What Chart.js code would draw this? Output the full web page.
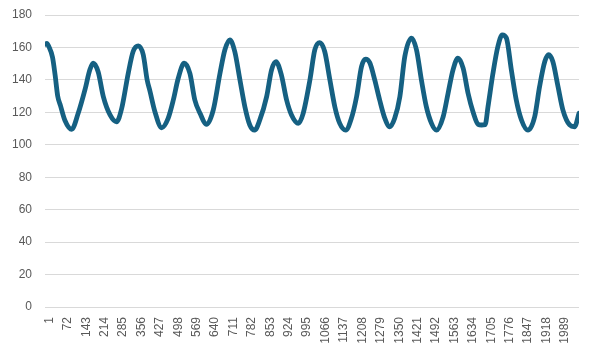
<!DOCTYPE html>
<html>
<head>
<meta charset="utf-8">
<script src="https://cdn.jsdelivr.net/npm/chart.js@4"></script>
<style>
html, body { margin: 0; padding: 0; background: #fff; }
</style>
</head>
<body>
<canvas id="grafica" width="589" height="353"></canvas>
<script>
// Posiciones (índice de la serie)
const puntoIndice = [
  1, 8, 16, 30, 40, 50, 61, 78, 104,
  129, 155, 174, 187,
  206, 226, 252, 277,
  297, 322, 341, 361,
  380, 395, 406, 425, 451,
  476, 496, 515, 538,
  560, 579, 599, 624,
  650, 676, 695, 714,
  733, 753, 772, 791, 810,
  829, 856, 875, 892,
  913, 933, 952, 978,
  997, 1023, 1042, 1061,
  1080, 1100, 1119, 1138, 1161,
  1183, 1203, 1222, 1238,
  1254, 1273, 1292, 1312, 1331,
  1350, 1370, 1389, 1415,
  1434, 1453, 1472, 1492, 1511,
  1537, 1556, 1575, 1594,
  1614, 1633, 1652, 1672, 1685, 1699,
  1710, 1729, 1748, 1765, 1781,
  1800, 1819, 1839, 1864,
  1890, 1909, 1929, 1944,
  1960, 1980, 1999, 2025, 2044, 2061
];
// Valores aproximados de la serie en esas posiciones
const puntoValor = [
  162, 162.5, 160.5, 154, 143, 130, 124, 115, 109.5,
  119.4, 133.8, 146.2, 150.3,
  145, 129.7, 118.4, 114.2,
  122.5, 144, 157.5, 161,
  155.5, 140, 133, 120.4, 110.5,
  116.3, 127.6, 141, 150.3,
  144, 127.6, 119.4, 112.6,
  121.4, 144, 158.6, 164.7,
  157.5, 140, 123.5, 112.2, 109,
  115, 129.7, 146.2, 151.3,
  143, 127.6, 118.4, 113.2,
  119.4, 140, 158.6, 163,
  157.5, 140, 123.5, 113.2, 109,
  116.3, 129.7, 148.2, 152.8,
  150.5, 140, 127.6, 116.3, 111.1,
  116.3, 129.7, 154.4, 165.8,
  158.6, 140, 123.5, 113.2, 109,
  117.3, 131.8, 146.2, 153.4,
  147.2, 131.8, 120.4, 112.6, 112.2, 112.4,
  123.5, 144, 160.6, 167.8, 165.8,
  146.2, 127.6, 115.3, 109,
  117.3, 135.9, 151.3, 155.5,
  151.3, 135.9, 121.4, 112.2, 111.1, 119.4
];
// Etiquetas del eje X
const etiquetasX = [1, 72, 143, 214, 285, 356, 427, 498, 569, 640, 711, 782, 853, 924,
  995, 1066, 1137, 1208, 1279, 1350, 1421, 1492, 1563, 1634, 1705, 1776, 1847, 1918, 1989];
const ultimoIndice = 2061;

const datos = puntoIndice.map((x, i) => ({ x: x, y: puntoValor[i] }));
const fuente = { family: "'Liberation Sans', Arial, sans-serif", size: 12 };

new Chart(document.querySelector("#grafica"), {
  type: 'line',
  data: {
    datasets: [{
      data: datos,
      borderColor: '#156082',
      borderWidth: 4.8,
      pointRadius: 0,
      cubicInterpolationMode: 'monotone',
      borderJoinStyle: 'round',
      borderCapStyle: 'round'
    }]
  },
  options: {
    responsive: false,
    animation: false,
    layout: { padding: { top: 15, right: 10, left: 0, bottom: 0 } },
    plugins: { legend: { display: false }, tooltip: { enabled: false } },
    scales: {
      x: {
        type: 'linear',
        min: 1,
        max: ultimoIndice,
        afterBuildTicks: (eje) => { eje.ticks = etiquetasX.map(v => ({ value: v })); },
        afterFit: (eje) => { eje.height = 46; },
        grid: { display: false, drawTicks: false },
        border: { display: false },
        ticks: {
          autoSkip: false,
          minRotation: 90,
          maxRotation: 90,
          padding: 10,
          labelOffset: 4.5,
          color: '#595959',
          font: fuente,
          callback: (v) => String(v)
        }
      },
      y: {
        min: 0,
        max: 180,
        afterFit: (eje) => { eje.width = 45; eje.paddingTop = 0; eje.paddingBottom = 0; },
        grid: { color: '#d9d9d9', drawTicks: false },
        border: { display: false },
        ticks: { stepSize: 20, padding: 13, color: '#595959', font: fuente }
      }
    }
  }
});
</script>
</body>
</html>
